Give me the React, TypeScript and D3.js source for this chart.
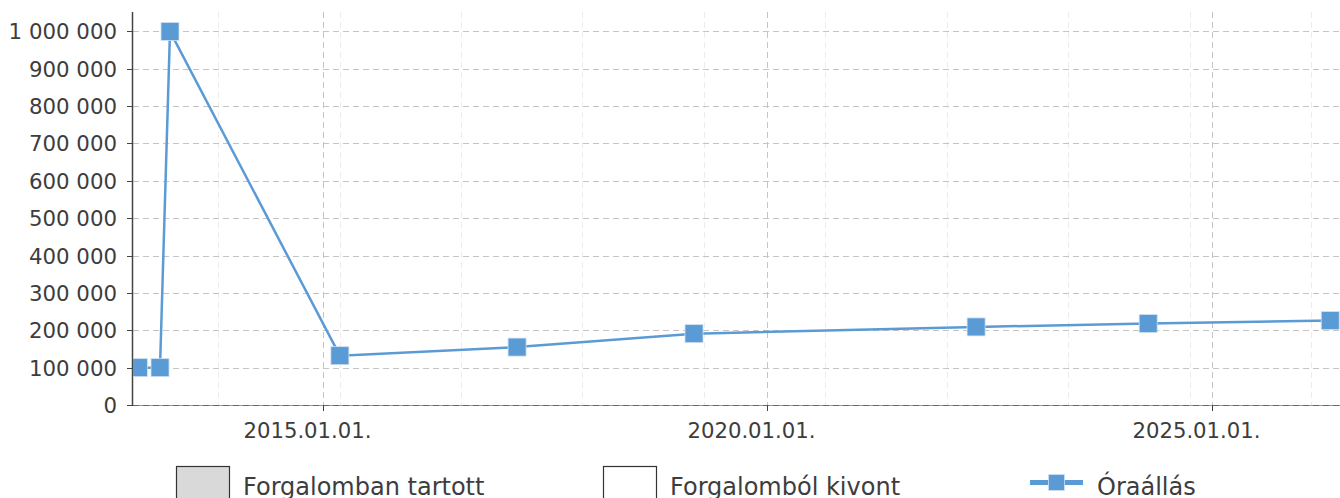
import React, { useEffect } from "react";
import * as d3 from "d3";

const seriesName = "Óraállás";
const pointDates = [
  "2012-12-04",
  "2013-03-03",
  "2013-04-13",
  "2015-03-12",
  "2017-03-09",
  "2019-03-06",
  "2022-05-08",
  "2024-04-14",
  "2026-05-02",
];
const pointValues = [100000, 100000, 1000000, 132000, 155000, 191000, 209000, 218000, 226000];

const xDomainDates = ["2012-11-12", "2026-06-07"];
const majorTickDates = ["2015-01-01", "2020-01-01", "2025-01-01"];
const majorTickLabels = ["2015.01.01.", "2020.01.01.", "2025.01.01."];
const minorGridDates = [
  "2013-10-27",
  "2015-03-12",
  "2016-07-22",
  "2017-12-02",
  "2019-04-15",
  "2020-08-26",
  "2022-01-07",
  "2023-05-21",
  "2024-10-01",
  "2026-02-12",
];
const yTicks = [0, 100000, 200000, 300000, 400000, 500000, 600000, 700000, 800000, 900000, 1000000];
const yMax = 1052000;

const legendItems = [
  { label: "Forgalomban tartott", kind: "box", fill: "#d9d9d9" },
  { label: "Forgalomból kivont", kind: "box", fill: "#ffffff" },
  { label: seriesName, kind: "line", fill: "#5b9bd5" },
];

const W = 1340;
const H = 498;
const left = 133;
const right = 1339;
const top = 12;
const bottom = 405;
const blue = "#5b9bd5";
const textColor = "#3d3d3d";
const font = "'DejaVu Sans', Verdana, sans-serif";

const fmt = (v: number) => d3.format(",")(v).replace(/,/g, " ");

export default function App() {
  useEffect(() => {
    document.body.style.margin = "0";
  }, []);
  const parse = d3.timeParse("%Y-%m-%d");
  const x = d3
    .scaleTime()
    .domain(xDomainDates.map((d) => parse(d) as Date))
    .range([left, right]);
  const y = d3.scaleLinear().domain([0, yMax]).range([bottom, top]);
  const pts = pointDates.map((d, i) => ({ x: x(parse(d) as Date), y: y(pointValues[i]) }));
  const line = d3
    .line<{ x: number; y: number }>()
    .x((d) => d.x)
    .y((d) => d.y);
  const legendX = [176, 603, 1030];
  const ms = 18;

  return (
    <svg width={W} height={H} style={{ display: "block" }} fontFamily={font}>
      <defs>
        <clipPath id="plotclip">
          <rect x={left} y={0} width={W - left} height={bottom + 10} />
        </clipPath>
      </defs>
      <rect x={0} y={0} width={W} height={H} fill="#fff" />
      {minorGridDates.map((d, i) => {
        const xx = Math.round(x(parse(d) as Date)) + 0.5;
        return (
          <line key={"mg" + i} x1={xx} x2={xx} y1={top} y2={bottom} stroke="#ececec" strokeDasharray="6,4" />
        );
      })}
      <line x1={left} x2={W} y1={bottom + 0.5} y2={bottom + 0.5} stroke="#999" />
      {yTicks.map((t) => {
        const yy = Math.round(y(t)) + 0.5;
        return (
          <g key={"yg" + t}>
            <line x1={left} x2={W} y1={yy} y2={yy} stroke={t === 0 ? "#666" : "#c4c4c4"} strokeDasharray="6,4" />
            <line x1={127} x2={left} y1={yy} y2={yy} stroke="#444" />
            <text x={117} y={yy} textAnchor="end" dominantBaseline="central" fontSize={21.3} fill={textColor}>
              {fmt(t)}
            </text>
          </g>
        );
      })}
      {majorTickDates.map((d, i) => {
        const xx = Math.round(x(parse(d) as Date)) + 0.5;
        return (
          <g key={"mj" + i}>
            <line x1={xx} x2={xx} y1={top} y2={bottom} stroke="#c4c4c4" strokeDasharray="6,4" />
            <line x1={xx} x2={xx} y1={bottom} y2={bottom + 6} stroke="#444" />
            <text x={xx - 16} y={438} textAnchor="middle" fontSize={21.2} fill={textColor}>
              {majorTickLabels[i]}
            </text>
          </g>
        );
      })}
      <line x1={left - 0.5} x2={left - 0.5} y1={top} y2={bottom + 1} stroke="#444" strokeWidth={1.5} />
      <g clipPath="url(#plotclip)">
        <path d={line(pts) || ""} fill="none" stroke={blue} strokeWidth={2.5} />
        {pts.map((p, i) => (
          <rect
            key={"m" + i}
            x={p.x - ms / 2}
            y={p.y - ms / 2}
            width={ms}
            height={ms}
            fill={blue}
            stroke="#cfe0f2"
            strokeWidth={0.8}
          />
        ))}
      </g>
      {legendItems.map((it, i) => {
        const lx = legendX[i];
        return (
          <g key={"lg" + i}>
            {it.kind === "box" ? (
              <rect x={lx + 0.5} y={466.5} width={53} height={40} fill={it.fill} stroke="#333" strokeWidth={1.2} />
            ) : (
              <g>
                <line x1={lx} x2={lx + 53} y1={482.5} y2={482.5} stroke={it.fill} strokeWidth={5} />
                <rect x={lx + 18.5} y={474.5} width={16} height={16} fill={it.fill} stroke="#cfe0f2" strokeWidth={0.8} />
              </g>
            )}
            <text x={lx + 67} y={495} fontSize={24} fill={textColor}>
              {it.label}
            </text>
          </g>
        );
      })}
    </svg>
  );
}
